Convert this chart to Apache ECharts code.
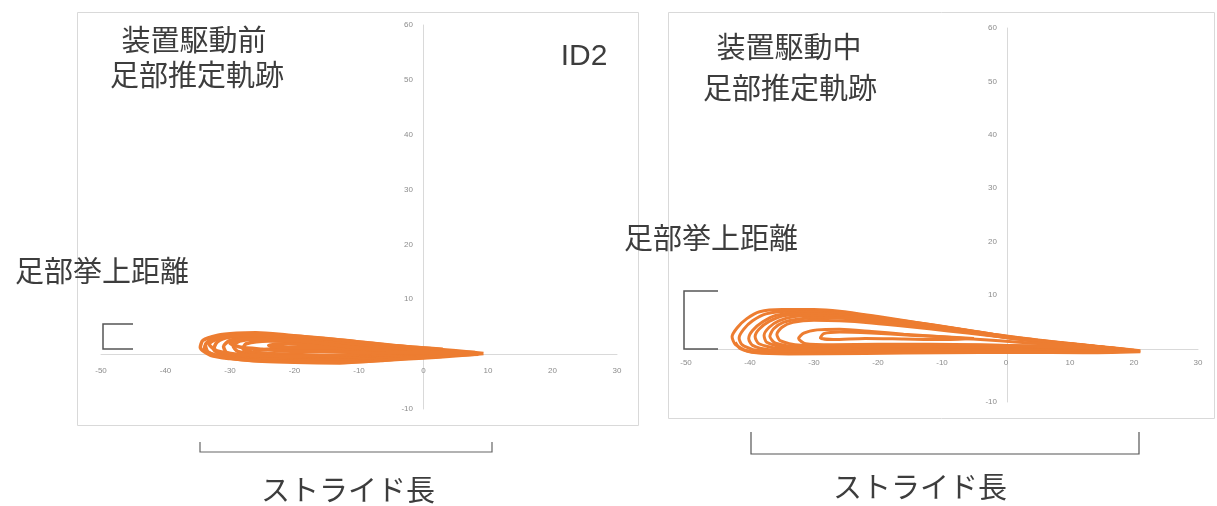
<!DOCTYPE html>
<html>
<head>
<meta charset="utf-8">
<script src="https://cdn.jsdelivr.net/npm/echarts@6/dist/echarts.min.js"></script>
<style>html,body{margin:0;padding:0;background:#fff}#c{width:1217px;height:506px}</style>
</head>
<body>
<div id="c"></div>
<script>
// ---- text ----
const titleBefore = ['装置駆動前', '足部推定軌跡'];
const titleDuring = ['装置駆動中', '足部推定軌跡'];
const liftLabel = '足部挙上距離';
const strideLabel = 'ストライド長';
const idLabel = 'ID2';

// ---- axes ----
const xMin = -50, xMax = 30, xStep = 10;
const yMin = -10, yMax = 60, yStep = 10;

// ---- before device drive: estimated foot trajectory loops [x, y] ----
const beforeLoop1 = [[9.3,0.1],[5,-0.3],[0,-0.7],[-6,-1.1],[-13,-1.6],[-20,-1.5],[-25,-1.3],[-30,-0.8],[-33,-0.2],[-34.6,1.2],[-34.2,2.5],[-32,3.4],[-29,3.8],[-26,3.9],[-22,3.6],[-17,3.0],[-12,2.5],[-6,1.7],[0,1.1],[5,0.6],[9.3,0.1]];
const beforeLoop2 = [[8.5,0],[4,-0.2],[0,-0.5],[-6,-0.9],[-13,-1.3],[-20,-1.2],[-26,-1.0],[-31,-0.5],[-33.4,0.4],[-33.8,1.6],[-32.8,2.8],[-30,3.5],[-26,3.6],[-21,3.3],[-16,2.8],[-11,2.2],[-5,1.5],[0,1.0],[4.5,0.5],[8.5,0]];
const beforeLoop3 = [[7.5,0],[3,-0.2],[-2,-0.4],[-8,-0.8],[-14,-1.0],[-21,-0.9],[-27,-0.6],[-31,-0.2],[-32.5,0.9],[-32,2.2],[-30,3.1],[-26,3.4],[-21,3.1],[-15,2.5],[-9,1.9],[-4,1.3],[1,0.8],[7.5,0]];
const beforeLoop4 = [[7,0.1],[2,-0.1],[-3,-0.3],[-9,-0.6],[-16,-0.8],[-23,-0.6],[-28,-0.3],[-30.5,0.3],[-31,1.4],[-30,2.5],[-27,3.1],[-22,3.0],[-16,2.5],[-10,1.9],[-4,1.3],[1,0.7],[7,0.1]];
const beforeLoop5 = [[6,0],[1,-0.2],[-5,-0.4],[-12,-0.5],[-19,-0.4],[-25,-0.1],[-28.8,0.5],[-29.5,1.5],[-28.5,2.4],[-25,2.9],[-20,2.7],[-14,2.2],[-8,1.6],[-2,1.0],[6,0]];
const beforeLoop6 = [[5,0],[0,0],[-7,-0.1],[-14,-0.2],[-21,0],[-26,0.3],[-28,1.0],[-27.5,1.9],[-24,2.4],[-18,2.2],[-12,1.8],[-6,1.3],[0,0.7],[5,0]];
const beforeLoop7 = [[4,-0.2],[-2,-0.5],[-8,-0.9],[-14,-1.2],[-20,-1.1],[-25,-0.8],[-27,-0.2],[-26,0.6],[-22,1.0],[-16,0.9],[-10,0.6],[-4,0.3],[4,-0.2]];
const beforeLoop8 = [[0,0.3],[-8,1.0],[-15,1.6],[-21,1.9],[-24,1.6],[-23,1.2],[-18,1.2],[-12,0.9],[-5,0.4],[0,0.3]];
const beforeLoop9 = [[8,0.3],[2,0.6],[-4,1.1],[-10,1.8],[-16,2.4],[-22,3.0],[-27,3.3],[-31.5,3.0],[-33.2,1.8],[-32,0.6],[-28,-0.1],[-22,-0.4],[-16,-0.3],[-10,0],[-4,0.3],[2,0.2],[8,0.3]];
const beforeLoop10 = [[3,-0.4],[-3,-0.8],[-9,-1.3],[-15,-1.5],[-21,-1.3],[-27,-1.1],[-31.5,-0.4],[-34,0.8],[-33.6,2.1],[-31,3.1],[-28,3.5],[-24,3.5],[-19,3.2],[-14,2.7],[-9,2.1],[-3,1.4],[3,0.9]];
const beforeLoop11 = [[-8,0.2],[-14,0.5],[-20,0.5],[-25,0.9],[-28.5,1.3],[-30,2.0],[-28,2.7],[-23,2.6],[-18,2.3],[-12,1.4],[-8,0.9]];

// ---- during device drive: estimated foot trajectory loops [x, y] ----
const duringLoop1 = [[21,-0.4],[15,-0.6],[8,-0.6],[0,-0.5],[-10,-0.6],[-20,-0.7],[-30,-0.8],[-37,-0.8],[-40.5,-0.4],[-42.3,0.8],[-42.8,2.2],[-42,3.9],[-40.5,5.6],[-38.5,6.9],[-35,7.3],[-30,7.3],[-26,7.0],[-20,6.0],[-14,4.9],[-8,3.8],[-2,2.7],[5,1.6],[12,0.7],[17,0.1],[21,-0.4]];
const duringLoop2 = [[20,-0.3],[12,-0.4],[4,-0.3],[-6,-0.3],[-16,-0.4],[-26,-0.5],[-35,-0.5],[-39.5,-0.2],[-41.3,0.8],[-41.7,2.0],[-41,3.6],[-39.6,5.2],[-37.5,6.5],[-34,7.0],[-29,7.0],[-24,6.5],[-18,5.5],[-12,4.5],[-6,3.4],[0,2.3],[7,1.3],[14,0.4],[20,-0.3]];
const duringLoop3 = [[19,-0.2],[10,-0.2],[0,-0.1],[-10,-0.2],[-20,-0.3],[-30,-0.4],[-37,-0.2],[-39.6,0.6],[-40.2,1.9],[-39.6,3.4],[-38,5.0],[-36,6.2],[-32,6.8],[-27,6.7],[-22,6.1],[-16,5.1],[-10,4.1],[-4,3.0],[2,1.9],[9,1.0],[15,0.3],[19,-0.2]];
const duringLoop4 = [[18,-0.1],[10,0],[2,0.1],[-8,0],[-18,-0.1],[-28,-0.2],[-35.5,0],[-38.6,0.9],[-39.2,2.2],[-38.6,3.6],[-37,5.1],[-34.5,6.2],[-30,6.5],[-25,6.2],[-19,5.4],[-13,4.4],[-7,3.4],[-1,2.3],[6,1.3],[12,0.6],[18,-0.1]];
const duringLoop5 = [[17,0],[8,0.2],[0,0.3],[-10,0.2],[-20,0.1],[-29,0],[-35,0.3],[-37.4,1.2],[-37.8,2.5],[-37,4.0],[-35.5,5.2],[-33,6.0],[-29,6.2],[-24,5.8],[-18,5.0],[-12,4.1],[-6,3.1],[0,2.1],[7,1.2],[12,0.6],[17,0]];
const duringLoop6 = [[16,0.1],[6,0.3],[-4,0.4],[-14,0.3],[-24,0.2],[-32,0.3],[-36,1.0],[-36.9,2.3],[-36.3,3.7],[-34.8,4.9],[-32,5.6],[-28,5.8],[-23,5.4],[-17,4.7],[-11,3.8],[-5,2.9],[1,1.9],[8,1.0],[16,0.1]];
const duringLoop7 = [[15,0.2],[5,0.5],[-5,0.6],[-15,0.5],[-25,0.4],[-32,0.6],[-35.3,1.5],[-35.8,2.7],[-35,4.0],[-33.3,4.9],[-30,5.3],[-26,5.2],[-21,4.8],[-15,4.1],[-9,3.3],[-3,2.5],[3,1.6],[9,0.9],[15,0.2]];
const duringLoop8 = [[14,0.1],[5,0.4],[-4,0.7],[-12,0.8],[-20,0.8],[-27,0.7],[-31.3,0.9],[-32.4,1.9],[-31.6,2.9],[-29.5,3.5],[-26,3.6],[-21,3.2],[-16,2.7],[-10,2.2],[-4,1.7],[2,1.2],[8,0.7],[14,0.1]];
const duringLoop9 = [[-5,1.9],[-10,1.7],[-16,1.8],[-22,1.9],[-27,1.7],[-29,2.0],[-28.5,2.8],[-26,3.1],[-21,2.9],[-15,2.5],[-10,2.2],[-5,1.9]];
const duringLoop10 = [[21,-0.6],[12,-0.8],[2,-0.7],[-10,-0.8],[-22,-0.9],[-34,-1.0],[-39,-0.8],[-41.5,0],[-42.3,1.2]];

const beforeLoops = [beforeLoop1,beforeLoop2,beforeLoop3,beforeLoop4,beforeLoop5,beforeLoop6,beforeLoop7,beforeLoop8,beforeLoop9,beforeLoop10,beforeLoop11];
const duringLoops = [duringLoop1,duringLoop2,duringLoop3,duringLoop4,duringLoop5,duringLoop6,duringLoop7,duringLoop8,duringLoop9,duringLoop10];

const ORANGE = '#ED7D31';
const AXIS = '#d9d9d9';
const LABEL = '#8c8c8c';
const TXT = '#3d3d3d';
const CJK = '"Noto Sans CJK JP", sans-serif';

function xAx(idx, offset, margin){
  return {type:'value', gridIndex:idx, min:xMin, max:xMax, interval:xStep, position:'bottom', offset:offset,
    axisLine:{onZero:false, lineStyle:{color:AXIS,width:1}}, axisTick:{show:false},
    splitLine:{show:false},
    axisLabel:{color:LABEL, fontSize:8, margin:margin, fontFamily:'Liberation Sans'}};
}
function yAx(idx, offset){
  return {type:'value', gridIndex:idx, min:yMin, max:yMax, interval:yStep, position:'left', offset:offset,
    axisLine:{onZero:false, lineStyle:{color:AXIS,width:1}}, axisTick:{show:false},
    splitLine:{show:false},
    axisLabel:{color:LABEL, fontSize:8, margin:10, fontFamily:'Liberation Sans'}};
}
function loopSeries(loops, idx, w){
  return loops.map(d => ({type:'line', xAxisIndex:idx, yAxisIndex:idx, data:d,
    showSymbol:false, smooth:0.25, lineStyle:{color:ORANGE,width:w}, z:3, silent:true}));
}
function txt(t, x, y, size, family){
  return {type:'text', z:10, style:{text:t, x:x, y:y, fontSize:size, fontFamily:family||CJK,
    fill:TXT, align:'center', verticalAlign:'middle'}};
}
function pl(points, color, w){
  return {type:'polyline', z:10, shape:{points:points}, style:{stroke:color, lineWidth:w, fill:null}};
}

const chart = echarts.init(document.getElementById('c'), null, {renderer:'canvas'});
chart.setOption({
  animation:false,
  backgroundColor:'#ffffff',
  grid:[
    {left:101, right:1217-617, top:25, bottom:506-409},
    {left:686, right:1217-1198, top:28, bottom:506-402}
  ],
  xAxis:[xAx(0,-55,13), xAx(1,-53,10)],
  yAxis:[yAx(0,-322), yAx(1,-321)],
  series:[...loopSeries(beforeLoops,0,3.5), ...loopSeries(duringLoops,1,3)],
  graphic:[
    {type:'rect', z:0, shape:{x:77.5,y:12.5,width:561,height:413}, style:{stroke:AXIS, fill:null, lineWidth:1}},
    {type:'rect', z:0, shape:{x:668.5,y:12.5,width:546,height:406}, style:{stroke:AXIS, fill:null, lineWidth:1}},
    txt(titleBefore[0], 194, 40, 29),
    txt(titleBefore[1], 197, 75, 29),
    txt(idLabel, 584, 57, 30, 'Liberation Sans'),
    txt(liftLabel, 102, 271, 29),
    txt(titleDuring[0], 789, 47, 29),
    txt(titleDuring[1], 790, 88, 29),
    txt(liftLabel, 711, 238, 29),
    txt(strideLabel, 348, 490, 29),
    txt(strideLabel, 920, 487, 29),
    pl([[133,324],[103,324],[103,349],[133,349]], '#555', 1.5),
    pl([[718,291],[684,291],[684,349],[718,349]], '#555', 1.5),
    pl([[200,442],[200,452],[492,452],[492,442]], '#666', 1.2),
    pl([[751,432],[751,454],[1139,454],[1139,432]], '#555', 1.2)
  ]
});
</script>
</body>
</html>
